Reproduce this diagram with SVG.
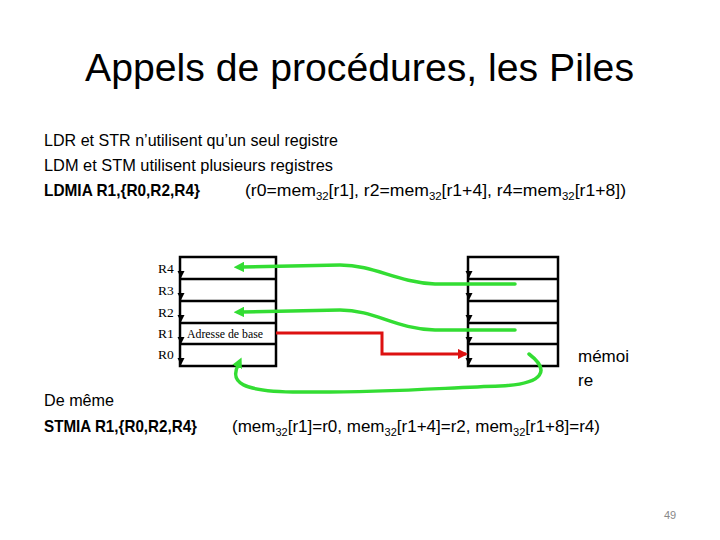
<svg xmlns="http://www.w3.org/2000/svg" width="720" height="540" viewBox="0 0 720 540">
<defs>
<style>
.t{font-family:"Liberation Sans",Arial,sans-serif;fill:#000}
.b{font-weight:bold}
.reg{font-family:"Liberation Serif","Times New Roman",serif;font-size:13.5px;fill:#000}
.adr{font-family:"Liberation Serif","Times New Roman",serif;font-size:12px;fill:#000}
.box{fill:#fff;stroke:#000;stroke-width:2.5}
.ln{stroke:#000;stroke-width:2.5}
.g{fill:none;stroke:#33dd33;stroke-width:3.5;stroke-linecap:round}
.r{fill:none;stroke:#dd1111;stroke-width:3}
.tri{fill:#000}
</style>
<marker id="ga" viewBox="0 0 10 10" refX="2" refY="5" markerWidth="3" markerHeight="3" orient="auto-start-reverse"><path d="M0,0 L10,5 L0,10 z" fill="#33dd33"/></marker>
<marker id="ra" viewBox="0 0 10 10" refX="8" refY="5" markerWidth="3.5" markerHeight="3.5" orient="auto"><path d="M0,0 L10,5 L0,10 z" fill="#dd1111"/></marker>
<path id="dn" d="M-3.5,-3 L3.5,-3 L0,4 z"/>
</defs>
<rect width="720" height="540" fill="#fff"/>
<text class="t" x="85" y="81" font-size="38" textLength="549" lengthAdjust="spacingAndGlyphs">Appels de procédures, les Piles</text>
<text class="t" x="44" y="146" font-size="17" textLength="294" lengthAdjust="spacingAndGlyphs">LDR et STR n’utilisent qu’un seul registre</text>
<text class="t" x="44" y="171" font-size="17" textLength="289" lengthAdjust="spacingAndGlyphs">LDM et STM utilisent plusieurs registres</text>
<text class="t b" x="44" y="196" font-size="17" textLength="156" lengthAdjust="spacingAndGlyphs">LDMIA R1,{R0,R2,R4}</text>
<text class="t" x="245" y="196" font-size="17" textLength="381" lengthAdjust="spacingAndGlyphs">(r0=mem<tspan font-size="11" dy="4">32</tspan><tspan dy="-4">[r1], r2=mem</tspan><tspan font-size="11" dy="4">32</tspan><tspan dy="-4">[r1+4], r4=mem</tspan><tspan font-size="11" dy="4">32</tspan><tspan dy="-4">[r1+8])</tspan></text>
<text class="t" x="44" y="406" font-size="17" textLength="70" lengthAdjust="spacingAndGlyphs">De même</text>
<text class="t b" x="44" y="432" font-size="17" textLength="153" lengthAdjust="spacingAndGlyphs">STMIA R1,{R0,R2,R4}</text>
<text class="t" x="232" y="432" font-size="17">(mem<tspan font-size="11" dy="4">32</tspan><tspan dy="-4">[r1]=r0, mem</tspan><tspan font-size="11" dy="4">32</tspan><tspan dy="-4">[r1+4]=r2, mem</tspan><tspan font-size="11" dy="4">32</tspan><tspan dy="-4">[r1+8]=r4)</tspan></text>
<text class="t" x="578" y="362" font-size="17">mémoi</text>
<text class="t" x="578" y="386" font-size="17">re</text>
<text class="t" x="664" y="519" font-size="11" style="fill:#888">49</text>
<g id="registres">
<rect class="box" x="180" y="257" width="96" height="109"/>
<line class="ln" x1="180" y1="279" x2="276" y2="279"/>
<line class="ln" x1="180" y1="301" x2="276" y2="301"/>
<line class="ln" x1="180" y1="323" x2="276" y2="323"/>
<line class="ln" x1="180" y1="344" x2="276" y2="344"/>
<text class="reg" x="158" y="273">R4</text>
<text class="reg" x="158" y="295">R3</text>
<text class="reg" x="158" y="317">R2</text>
<text class="reg" x="158" y="338">R1</text>
<text class="reg" x="158" y="359">R0</text>
<text class="adr" x="187" y="338" textLength="76" lengthAdjust="spacingAndGlyphs">Adresse de base</text>
<use href="#dn" class="tri" x="181" y="274"/>
<use href="#dn" class="tri" x="181" y="296"/>
<use href="#dn" class="tri" x="181" y="318"/>
<use href="#dn" class="tri" x="181" y="340"/>
<use href="#dn" class="tri" x="181" y="361"/>
</g>
<g id="memoire">
<rect class="box" x="468" y="257" width="90" height="109"/>
<line class="ln" x1="468" y1="279" x2="558" y2="279"/>
<line class="ln" x1="468" y1="301" x2="558" y2="301"/>
<line class="ln" x1="468" y1="323" x2="558" y2="323"/>
<line class="ln" x1="468" y1="344" x2="558" y2="344"/>
<use href="#dn" class="tri" x="469" y="274"/>
<use href="#dn" class="tri" x="469" y="296"/>
<use href="#dn" class="tri" x="469" y="318"/>
<use href="#dn" class="tri" x="469" y="340"/>
<use href="#dn" class="tri" x="469" y="361"/>
</g>
<g id="connecteurs">
<path class="g" marker-start="url(#ga)" d="M242,267 L340,265 C375,265 395,282 435,284 L515,284"/>
<path class="g" marker-start="url(#ga)" d="M242,312 L340,310 C375,310 395,329 435,330 L515,330"/>
<path class="r" marker-end="url(#ra)" d="M276,333 L382,333 L382,354 L466,354"/>
<path class="g" marker-start="url(#ga)" d="M238,365 C230,382 240,392 300,392 C380,393 440,388 500,386 C545,384 550,370 529,354"/>
</g>
</svg>
